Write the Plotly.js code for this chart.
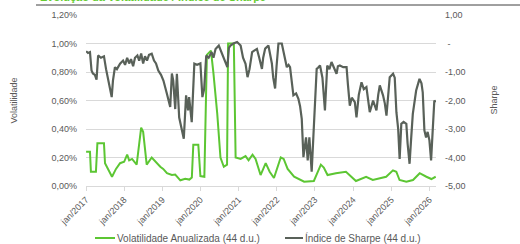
<!DOCTYPE html>
<html>
<head>
<meta charset="utf-8">
<script src="https://cdn.plot.ly/plotly-3.0.1.min.js"></script>
<style>html,body{margin:0;padding:0;background:#fff;}#chart{width:520px;height:244px;}</style>
</head>
<body>
<div id="chart"></div>
<script>
// Volatilidade Anualizada (44 d.u.), em %
const volDates = ['2017-01-02','2017-02-08','2017-02-17','2017-03-10','2017-04-06','2017-04-20','2017-05-20','2017-06-22','2017-07-02','2017-08-01','2017-09-07','2017-10-15','2017-11-23','2018-01-01','2018-01-30','2018-02-18','2018-03-18','2018-05-01','2018-05-25','2018-06-13','2018-07-02','2018-08-05','2018-09-22','2018-10-26','2018-12-13','2019-01-10','2019-02-15','2019-04-03','2019-05-05','2019-06-23','2019-08-09','2019-09-17','2019-10-11','2019-10-25','2019-12-12','2020-01-01','2020-02-08','2020-03-03','2020-04-11','2020-05-05','2020-06-10','2020-07-11','2020-08-12','2020-09-12','2020-09-22','2020-11-16','2020-12-03','2021-01-20','2021-03-08','2021-04-06','2021-05-14','2021-06-12','2021-07-30','2021-09-17','2021-10-25','2021-12-05','2022-01-10','2022-02-08','2022-03-08','2022-04-15','2022-06-16','2022-09-20','2022-12-22','2023-02-27','2023-03-27','2023-05-02','2023-07-21','2023-10-25','2024-01-29','2024-05-05','2024-07-08','2024-09-10','2024-11-13','2025-01-17','2025-02-18','2025-03-21','2025-05-25','2025-07-28','2025-09-30','2025-12-03','2026-01-20','2026-03-02'];
const volValues = [0.24,0.24,0.10,0.10,0.10,0.30,0.30,0.30,0.16,0.12,0.065,0.12,0.16,0.17,0.22,0.18,0.19,0.15,0.30,0.41,0.38,0.15,0.20,0.17,0.135,0.12,0.09,0.077,0.08,0.04,0.05,0.045,0.06,0.29,0.29,0.07,0.065,0.92,0.95,0.79,0.51,0.20,0.135,0.15,1.00,1.00,0.20,0.19,0.21,0.18,0.22,0.19,0.077,0.16,0.10,0.056,0.14,0.20,0.19,0.12,0.065,0.03,0.035,0.15,0.13,0.077,0.09,0.10,0.035,0.065,0.042,0.054,0.065,0.11,0.10,0.042,0.03,0.042,0.09,0.065,0.049,0.065];

// Índice de Sharpe (44 d.u.)
const shpDates = ['2017-01-02','2017-01-20','2017-02-08','2017-02-23','2017-03-08','2017-03-27','2017-04-12','2017-04-27','2017-05-24','2017-06-22','2017-07-12','2017-08-02','2017-08-19','2017-09-04','2017-09-16','2017-10-05','2017-10-24','2017-11-23','2017-12-22','2018-01-10','2018-01-30','2018-02-18','2018-03-08','2018-03-28','2018-04-15','2018-05-08','2018-05-25','2018-06-13','2018-07-02','2018-07-20','2018-08-08','2018-08-27','2018-09-22','2018-10-14','2018-11-02','2018-11-24','2018-12-20','2019-01-12','2019-02-15','2019-03-18','2019-04-03','2019-04-16','2019-05-05','2019-05-21','2019-06-12','2019-07-26','2019-08-17','2019-09-05','2019-09-15','2019-10-10','2019-11-04','2019-11-30','2020-01-01','2020-01-20','2020-02-06','2020-02-26','2020-03-20','2020-04-17','2020-05-05','2020-05-25','2020-06-25','2020-07-22','2020-08-10','2020-09-15','2020-09-30','2020-10-15','2020-11-12','2020-12-17','2021-01-20','2021-02-12','2021-03-08','2021-03-27','2021-04-15','2021-05-10','2021-05-30','2021-06-25','2021-07-17','2021-08-12','2021-08-24','2021-09-12','2021-10-13','2021-11-15','2021-11-28','2021-12-16','2021-12-30','2022-01-17','2022-02-18','2022-03-12','2022-04-07','2022-04-24','2022-05-08','2022-06-09','2022-07-05','2022-07-27','2022-08-12','2022-08-28','2022-09-13','2022-10-08','2022-10-24','2022-11-09','2022-12-01','2022-12-17','2023-01-18','2023-01-31','2023-02-19','2023-03-14','2023-04-07','2023-04-29','2023-05-20','2023-06-09','2023-07-01','2023-07-27','2023-08-09','2023-08-28','2023-09-29','2023-10-31','2023-11-12','2023-12-01','2023-12-20','2024-01-18','2024-02-03','2024-02-25','2024-03-22','2024-04-13','2024-05-08','2024-05-21','2024-06-09','2024-07-11','2024-07-27','2024-08-12','2024-08-29','2024-09-13','2024-10-14','2024-10-31','2024-11-16','2024-12-03','2024-12-17','2025-01-18','2025-02-03','2025-02-19','2025-03-08','2025-03-22','2025-04-07','2025-04-29','2025-05-25','2025-06-06','2025-06-25','2025-07-09','2025-07-26','2025-08-27','2025-09-13','2025-09-28','2025-10-17','2025-10-29','2025-11-14','2025-11-30','2025-12-15','2026-01-01','2026-01-17','2026-02-01','2026-02-17','2026-03-02'];
const shpValues = [-0.27,-0.33,-0.30,-0.95,-1.05,-1.10,-1.27,-0.42,-0.50,-0.45,-0.90,-1.30,-1.50,-1.88,-1.30,-0.83,-0.90,-0.71,-0.60,-0.75,-0.50,-0.70,-0.55,-0.80,-0.50,-0.42,-0.60,-0.35,-0.70,-0.45,-0.60,-0.40,-0.36,-0.60,-0.70,-0.95,-1.10,-1.30,-1.77,-2.23,-1.05,-1.30,-2.30,-1.06,-2.60,-3.34,-1.82,-2.35,-1.88,-2.76,-0.71,-0.75,-0.70,-1.88,-1.60,-0.42,-0.50,-0.30,-0.50,-0.19,-0.07,-0.30,-0.50,-0.83,-0.15,-0.07,0.00,0.05,-0.07,-0.50,-0.71,-1.18,-0.90,-0.30,-0.25,-0.19,-0.50,-0.89,-0.50,-0.18,-0.07,-0.70,-1.20,-1.58,-0.80,0.00,0.00,-0.40,-0.83,-0.75,-0.83,-1.82,-1.75,-1.94,-2.20,-2.64,-3.99,-3.29,-4.10,-3.29,-4.50,-3.29,-0.89,-0.85,-0.77,-1.20,-2.35,-0.77,-0.90,-0.65,-0.85,-1.06,-0.80,-0.77,-0.83,-0.83,-1.40,-2.18,-1.90,-2.06,-2.59,-1.80,-1.36,-1.60,-1.53,-1.90,-2.41,-2.00,-2.20,-2.35,-1.80,-1.47,-1.82,-2.10,-2.53,-1.60,-1.18,-1.06,-1.20,-2.41,-3.00,-4.05,-2.82,-2.75,-2.82,-3.50,-4.22,-3.40,-2.47,-1.65,-1.40,-1.24,-1.40,-1.71,-3.05,-3.30,-3.10,-3.40,-4.10,-3.05,-2.00,-2.06];

const yearTicks = ['2017-01-01','2018-01-01','2019-01-01','2020-01-01','2021-01-01','2022-01-01','2023-01-01','2024-01-01','2025-01-01','2026-01-01'];
const yearLabels = ['jan/2017','jan/2018','jan/2019','jan/2020','jan/2021','jan/2022','jan/2023','jan/2024','jan/2025','jan/2026'];
const volTicks = [0, 0.2, 0.4, 0.6, 0.8, 1.0, 1.2];
const volTickLabels = ['0,00%','0,20%','0,40%','0,60%','0,80%','1,00%','1,20%'];
const shpTicks = [-5, -4, -3, -2, -1, 0, 1];
const shpTickLabels = ['-5,00','-4,00','-3,00','-2,00','-1,00',' -','1,00'];
const seriesNames = ['Volatilidade Anualizada (44 d.u.)', 'Índice de Sharpe (44 d.u.)'];

const FONT = 'Liberation Sans, Arial, sans-serif';
const GRAY = '#595959';
const GREEN = '#5cc633';
const DARK = '#596159';

const traces = [
  {x: volDates, y: volValues, type: 'scatter', mode: 'lines', name: seriesNames[0],
   line: {color: GREEN, width: 2}, yaxis: 'y'},
  {x: shpDates, y: shpValues, type: 'scatter', mode: 'lines', name: seriesNames[1],
   line: {color: DARK, width: 2.2}, yaxis: 'y2'}
];

// pixel helpers for the plot area (l=86, width=350, bottom=186, height=171)
const px = p => (p - 86) / 350;
const py = p => (186 - p) / 171;

const layout = {
  width: 520, height: 244,
  margin: {l: 86, r: 84, t: 15, b: 58},
  paper_bgcolor: '#fff', plot_bgcolor: '#fff',
  font: {family: FONT, size: 9, color: GRAY},
  showlegend: false,
  xaxis: {type: 'date', range: ['2017-01-01', '2026-03-05'], tickvals: yearTicks, ticktext: yearLabels,
          tickangle: -45, showgrid: false, zeroline: false, showline: true, linecolor: '#d9d9d9', linewidth: 1,
          ticks: 'outside', ticklen: 4, tickcolor: '#d9d9d9', tickfont: {family: FONT, size: 9, color: GRAY}},
  yaxis: {range: [0, 1.2], tickvals: volTicks, ticktext: volTickLabels, showgrid: true, gridcolor: '#d9d9d9',
          gridwidth: 1, zeroline: false, showline: false, ticks: '', ticklabelstandoff: 8,
          tickfont: {family: FONT, size: 9, color: GRAY}},
  yaxis2: {range: [-5, 1], overlaying: 'y', side: 'right', tickvals: shpTicks, ticktext: shpTickLabels,
           showgrid: false, zeroline: false, showline: false, ticks: '', ticklabelstandoff: 8,
           tickfont: {family: FONT, size: 9, color: GRAY}},
  shapes: [
    {type: 'line', xref: 'paper', yref: 'paper', x0: px(36), x1: px(520), y0: py(5), y1: py(5),
     line: {color: '#404040', width: 1}},
    {type: 'line', xref: 'paper', yref: 'paper', x0: px(95), x1: px(115), y0: py(238), y1: py(238),
     line: {color: GREEN, width: 2}},
    {type: 'line', xref: 'paper', yref: 'paper', x0: px(285), x1: px(303), y0: py(238), y1: py(238),
     line: {color: DARK, width: 2}}
  ],
  annotations: [
    {text: 'Evolução da Volatilidade / Índice de Sharpe', xref: 'paper', yref: 'paper',
     x: px(38), xanchor: 'left', y: py(5), yanchor: 'bottom', showarrow: false,
     font: {family: FONT, size: 11, color: '#66cc33', weight: 'bold'}},
    {text: 'Volatilidade', xref: 'paper', yref: 'paper', x: px(13), y: 0.5, xanchor: 'center', yanchor: 'middle',
     textangle: -90, showarrow: false, font: {family: FONT, size: 9, color: GRAY}},
    {text: 'Sharpe', xref: 'paper', yref: 'paper', x: px(493), y: 0.5, xanchor: 'center', yanchor: 'middle',
     textangle: -90, showarrow: false, font: {family: FONT, size: 9, color: GRAY}},
    {text: seriesNames[0], xref: 'paper', yref: 'paper', x: px(115), y: py(238), xanchor: 'left', yanchor: 'middle',
     showarrow: false, font: {family: FONT, size: 10, color: GRAY}},
    {text: seriesNames[1], xref: 'paper', yref: 'paper', x: px(303), y: py(238), xanchor: 'left', yanchor: 'middle',
     showarrow: false, font: {family: FONT, size: 10, color: GRAY}}
  ]
};

Plotly.newPlot('chart', traces, layout, {displayModeBar: false, staticPlot: true});
</script>
</body>
</html>
